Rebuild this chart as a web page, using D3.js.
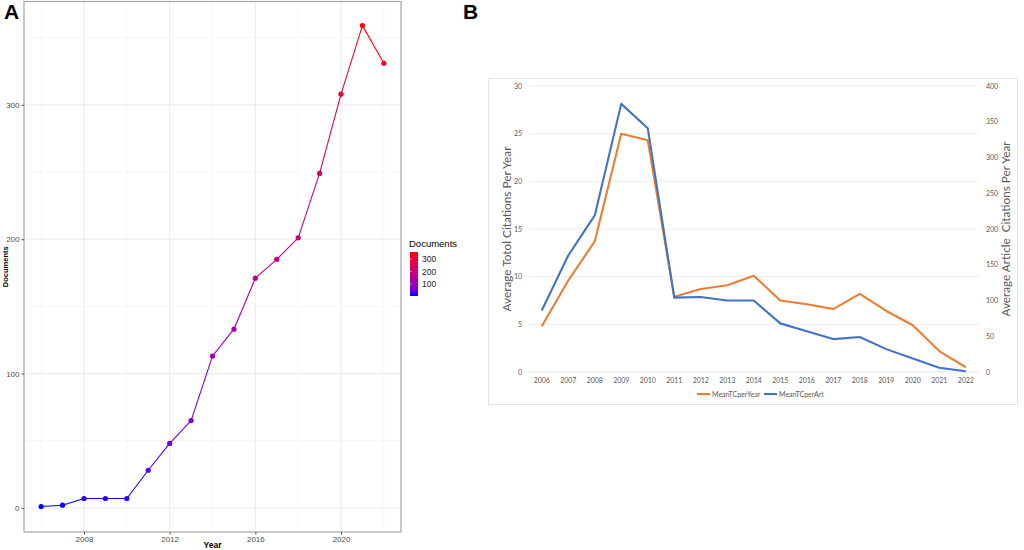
<!DOCTYPE html>
<html lang="en">
    <head>
        <meta charset="utf-8">
        <title>Documents and citations per year</title>
        <script type="text/javascript" src="https://cdnjs.cloudflare.com/ajax/libs/d3/7.8.5/d3.min.js"></script>
        <style type="text/css">
            body { margin: 0; background: #fff; }
            svg { display: block; font-family: "Liberation Sans", Arial, sans-serif; }
        </style>
    </head>
    <body>
        <script type="text/javascript">
            // panel A data
            var years = [2006, 2007, 2008, 2009, 2010, 2011, 2012, 2013, 2014, 2015, 2016, 2017, 2018, 2019, 2020, 2021, 2022];
            var documents = [1, 2, 7, 7, 7, 28, 48, 65, 113, 133, 171, 185, 201, 249, 308, 359, 331];
            var docTicksX = [2008, 2012, 2016, 2020];
            var docTicksY = [0, 100, 200, 300];
            var legendTicks = [100, 200, 300];

            // panel B data
            var yearLabels = ["2006", "2007", "2008", "2009", "2010", "2011", "2012", "2013", "2014", "2015", "2016", "2017", "2018", "2019", "2020", "2021", "2022"];
            var meanTCperYear = [4.8, 9.6, 13.7, 25.0, 24.3, 7.9, 8.7, 9.1, 10.1, 7.5, 7.1, 6.6, 8.2, 6.4, 4.9, 2.2, 0.5];
            var meanTCperArt = [86, 163, 219, 375, 341, 104, 105, 100, 100, 68, 57, 46, 49, 32, 19, 6, 1];
            var leftTicks = [0, 5, 10, 15, 20, 25, 30];
            var rightTicks = [0, 50, 100, 150, 200, 250, 300, 350, 400];

            var w = 1024;
            var h = 550;

            var svg = d3.select("body")
                        .append("svg")
                        .attr("width", w)
                        .attr("height", h);

            // ---------- panel A ----------
            var a = { left: 24, right: 401, top: 1.5, bottom: 532 };

            var xA = d3.scaleLinear()
                       .domain([2005.2, 2022.8])
                       .range([a.left, a.right]);
            var yA = d3.scaleLinear()
                       .domain([-17.95, 376.95])
                       .range([a.bottom, a.top]);
            var color = d3.scaleLinear()
                          .domain([d3.min(documents), d3.max(documents)])
                          .range(["#0000ff", "#ff0000"])
                          .interpolate(d3.interpolateLab);

            var gA = svg.append("g");

            // minor grid
            gA.selectAll("line.minx")
              .data([2006, 2010, 2014, 2018, 2022])
              .enter().append("line")
              .attr("x1", function (d) { return xA(d); })
              .attr("x2", function (d) { return xA(d); })
              .attr("y1", a.top).attr("y2", a.bottom)
              .attr("stroke", "#f2f2f2").attr("stroke-width", 0.6);
            gA.selectAll("line.miny")
              .data([50, 150, 250, 350])
              .enter().append("line")
              .attr("y1", function (d) { return yA(d); })
              .attr("y2", function (d) { return yA(d); })
              .attr("x1", a.left).attr("x2", a.right)
              .attr("stroke", "#f2f2f2").attr("stroke-width", 0.6);
            // major grid
            gA.selectAll("line.majx")
              .data(docTicksX)
              .enter().append("line")
              .attr("x1", function (d) { return xA(d); })
              .attr("x2", function (d) { return xA(d); })
              .attr("y1", a.top).attr("y2", a.bottom)
              .attr("stroke", "#ebebeb").attr("stroke-width", 1);
            gA.selectAll("line.majy")
              .data(docTicksY)
              .enter().append("line")
              .attr("y1", function (d) { return yA(d); })
              .attr("y2", function (d) { return yA(d); })
              .attr("x1", a.left).attr("x2", a.right)
              .attr("stroke", "#ebebeb").attr("stroke-width", 1);

            // line segments coloured by their starting point
            var segs = d3.range(years.length - 1);
            gA.selectAll("line.seg")
              .data(segs)
              .enter().append("line")
              .attr("x1", function (i) { return xA(years[i]); })
              .attr("y1", function (i) { return yA(documents[i]); })
              .attr("x2", function (i) { return xA(years[i + 1]); })
              .attr("y2", function (i) { return yA(documents[i + 1]); })
              .attr("stroke", function (i) { return color(documents[i]); })
              .attr("stroke-width", 1.1);

            gA.selectAll("circle")
              .data(years)
              .enter().append("circle")
              .attr("cx", function (d) { return xA(d); })
              .attr("cy", function (d, i) { return yA(documents[i]); })
              .attr("r", 2.6)
              .attr("fill", function (d, i) { return color(documents[i]); });

            gA.append("rect")
              .attr("x", a.left).attr("y", a.top)
              .attr("width", a.right - a.left).attr("height", a.bottom - a.top)
              .attr("fill", "none").attr("stroke", "#a6a6a6").attr("stroke-width", 1.2);

            var axA = gA.append("g")
                        .attr("transform", "translate(0," + a.bottom + ")")
                        .call(d3.axisBottom(xA).tickValues(docTicksX).tickFormat(d3.format("d")).tickSize(2.5).tickPadding(2));
            var ayA = gA.append("g")
                        .attr("transform", "translate(" + a.left + ",0)")
                        .call(d3.axisLeft(yA).tickValues(docTicksY).tickSize(2.5).tickPadding(2));
            [axA, ayA].forEach(function (g) {
                g.select(".domain").remove();
                g.selectAll("line").attr("stroke", "#555");
                g.selectAll("text").attr("fill", "#4d4d4d").attr("font-size", "8px").attr("font-family", "Liberation Sans, Arial, sans-serif");
            });

            gA.append("text")
              .attr("x", (a.left + a.right) / 2).attr("y", 548)
              .attr("text-anchor", "middle")
              .attr("font-size", "8.5px").attr("font-weight", "bold")
              .text("Year");
            gA.append("text")
              .attr("transform", "translate(8," + ((a.top + a.bottom) / 2) + ") rotate(-90)")
              .attr("text-anchor", "middle")
              .attr("font-size", "7.5px").attr("font-weight", "bold")
              .text("Documents");

            gA.append("text")
              .attr("x", 4).attr("y", 19)
              .attr("font-size", "21px").attr("font-weight", "bold")
              .text("A");

            // colour bar legend
            var yL = d3.scaleLinear()
                       .domain([d3.min(documents), d3.max(documents)])
                       .range([296, 252]);
            var grad = svg.append("defs").append("linearGradient")
                          .attr("id", "docgrad")
                          .attr("x1", 0).attr("y1", 1).attr("x2", 0).attr("y2", 0);
            grad.selectAll("stop")
                .data(d3.range(0, 1.01, 0.1))
                .enter().append("stop")
                .attr("offset", function (d) { return d; })
                .attr("stop-color", function (d) { return color(color.domain()[0] + d * (color.domain()[1] - color.domain()[0])); });
            gA.append("text")
              .attr("x", 409).attr("y", 247)
              .attr("font-size", "9.5px")
              .text("Documents");
            gA.append("rect")
              .attr("x", 410).attr("y", yL.range()[1])
              .attr("width", 8).attr("height", yL.range()[0] - yL.range()[1])
              .attr("fill", "url(#docgrad)");
            gA.selectAll("line.lt")
              .data(legendTicks)
              .enter().append("line")
              .attr("x1", 410).attr("x2", 411.6)
              .attr("y1", function (d) { return yL(d); })
              .attr("y2", function (d) { return yL(d); })
              .attr("stroke", "#fff").attr("stroke-width", 0.6);
            gA.selectAll("text.lt")
              .data(legendTicks)
              .enter().append("text")
              .attr("x", 422)
              .attr("y", function (d) { return yL(d) + 3; })
              .attr("font-size", "8.5px").attr("fill", "#222")
              .text(function (d) { return d; });

            // ---------- panel B ----------
            svg.append("text")
               .attr("x", 463).attr("y", 19)
               .attr("font-size", "21px").attr("font-weight", "bold")
               .text("B");

            var gB = svg.append("g").attr("font-family", "Lato, 'Open Sans', sans-serif");

            gB.append("rect")
              .attr("x", 488.5).attr("y", 78.5)
              .attr("width", 529).attr("height", 326)
              .attr("fill", "#fff").attr("stroke", "#e3e3e3").attr("stroke-width", 1);

            var b = { left: 528.5, right: 979, top: 86, bottom: 372 };
            var xB = d3.scaleBand()
                       .domain(yearLabels)
                       .range([b.left, b.right]);
            var yB1 = d3.scaleLinear().domain([0, 30]).range([b.bottom, b.top]);
            var yB2 = d3.scaleLinear().domain([0, 400]).range([b.bottom, b.top]);

            gB.selectAll("line.grid")
              .data(leftTicks)
              .enter().append("line")
              .attr("x1", b.left).attr("x2", b.right)
              .attr("y1", function (d) { return yB1(d); })
              .attr("y2", function (d) { return yB1(d); })
              .attr("stroke", function (d) { return d === 0 ? "#d9d9d9" : "#e8e8e8"; })
              .attr("stroke-width", 0.8);

            gB.selectAll("text.lt")
              .data(leftTicks)
              .enter().append("text")
              .attr("x", 522).attr("y", function (d) { return yB1(d) + 2.5; })
              .attr("text-anchor", "end")
              .attr("font-size", "7px").attr("fill", "#595959")
              .text(function (d) { return d; });
            gB.selectAll("text.rt")
              .data(rightTicks)
              .enter().append("text")
              .attr("x", 986).attr("y", function (d) { return yB2(d) + 2.5; })
              .attr("font-size", "7px").attr("fill", "#595959")
              .text(function (d) { return d; });
            gB.selectAll("text.xt")
              .data(yearLabels)
              .enter().append("text")
              .attr("x", function (d) { return xB(d) + xB.bandwidth() / 2; })
              .attr("y", 383)
              .attr("text-anchor", "middle")
              .attr("font-size", "7px").attr("fill", "#595959")
              .text(function (d) { return d; });

            gB.append("text")
              .attr("transform", "translate(511," + ((b.top + b.bottom) / 2) + ") rotate(-90)")
              .attr("text-anchor", "middle")
              .attr("font-size", "12px").attr("fill", "#595959")
              .attr("textLength", 165).attr("lengthAdjust", "spacingAndGlyphs")
              .text("Average Totol Citations Per Year");
            gB.append("text")
              .attr("transform", "translate(1010," + ((b.top + b.bottom) / 2) + ") rotate(-90)")
              .attr("text-anchor", "middle")
              .attr("font-size", "12px").attr("fill", "#595959")
              .attr("textLength", 175).attr("lengthAdjust", "spacingAndGlyphs")
              .style("white-space", "pre")
              .text("Average Article  Citations Per Year");

            var cx = function (d, i) { return xB(yearLabels[i]) + xB.bandwidth() / 2; };
            var lineYear = d3.line().x(cx).y(function (d) { return yB1(d); });
            var lineArt = d3.line().x(cx).y(function (d) { return yB2(d); });

            gB.append("path")
              .attr("d", lineYear(meanTCperYear))
              .attr("fill", "none").attr("stroke", "#ed7d31").attr("stroke-width", 2.1)
              .attr("stroke-linejoin", "round");
            gB.append("path")
              .attr("d", lineArt(meanTCperArt))
              .attr("fill", "none").attr("stroke", "#4472c4").attr("stroke-width", 2.1)
              .attr("stroke-linejoin", "round");

            var legend = [["MeanTCperYear", "#ed7d31", 697], ["MeanTCperArt", "#4472c4", 764]];
            var lg = gB.selectAll("g.leg")
                       .data(legend)
                       .enter().append("g")
                       .attr("transform", function (d) { return "translate(" + d[2] + ",394)"; });
            lg.append("line")
              .attr("x1", 0).attr("x2", 13)
              .attr("stroke", function (d) { return d[1]; })
              .attr("stroke-width", 2.1);
            lg.append("text")
              .attr("x", 15).attr("y", 2.5)
              .attr("font-size", "7px").attr("fill", "#595959")
              .text(function (d) { return d[0]; });
        </script>
    </body>
</html>
